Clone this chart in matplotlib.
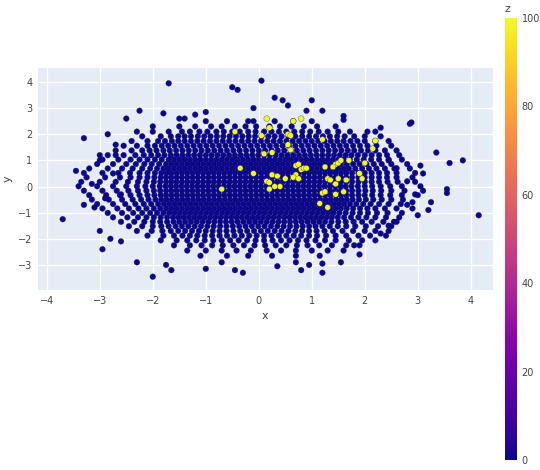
import numpy as np
import matplotlib
matplotlib.use("Agg")
import matplotlib.pyplot as plt

# dark points (z=0), grouped by row (y) with x positions
rows = {
 2.5: "-1.0 -0.6 -0.2 0.3 0.65 1.0",
 2.3: "-1.5 -1.2 -0.9 -0.7 -0.45 -0.25 -0.05 0.2 0.4 0.62 0.85 1.1 1.45",
 2.1: "-2.0 -1.7 -1.45 -1.3 -1.12 -0.97 -0.8 -0.66 -0.5 -0.36 -0.2 -0.06 0.1 0.24 0.38 0.52 0.67 0.82 0.97 1.13 1.3 1.5 1.72 2.05",
 1.92: "-2.2 -1.85 -1.66 -1.52 -1.4 -1.28 -1.15 -1.03 -0.91 -0.79 -0.67 -0.55 -0.43 -0.31 -0.19 -0.07 0.05 0.18 0.3 0.43 0.56 0.69 0.82 0.95 1.08 1.21 1.34 1.48 1.62 1.8 2.0 2.3",
 1.74: "-2.4 -2.1 -1.9 -1.77 -1.64 -1.52 -1.4 -1.28 -1.16 -1.04 -0.92 -0.8 -0.68 -0.56 -0.44 -0.32 -0.2 -0.08 0.04 0.16 0.28 0.4 0.52 0.64 0.76 0.88 1.0 1.12 1.24 1.36 1.48 1.6 1.73 1.86 2.0 2.2 2.45",
 1.56: "-2.55 -2.3 -2.1 -1.96 -1.83 -1.71 -1.59 -1.47 -1.35 -1.23 -1.11 -0.99 -0.87 -0.75 -0.63 -0.51 -0.39 -0.27 -0.15 -0.03 0.09 0.21 0.33 0.45 0.57 0.69 0.81 0.93 1.05 1.17 1.29 1.41 1.53 1.65 1.78 1.91 2.05 2.22 2.5",
 1.38: "-2.7 -2.4 -2.2 -2.06 -1.93 -1.8 -1.68 -1.56 -1.44 -1.32 -1.2 -1.08 -0.96 -0.84 -0.72 -0.6 -0.48 -0.36 -0.24 -0.12 0.0 0.12 0.24 0.36 0.48 0.6 0.72 0.84 0.96 1.08 1.2 1.32 1.44 1.56 1.68 1.8 1.93 2.06 2.2 2.38 2.6",
 1.2: "-2.85 -2.55 -2.33 -2.17 -2.03 -1.9 -1.78 -1.66 -1.55 -1.44 -1.33 -1.22 -1.11 -1.0 -0.89 -0.78 -0.67 -0.56 -0.45 -0.34 -0.23 -0.12 -0.01 0.1 0.21 0.32 0.43 0.54 0.65 0.76 0.87 0.98 1.09 1.2 1.31 1.42 1.53 1.64 1.75 1.87 2.0 2.13 2.27 2.42 2.65",
 1.03: "-2.95 -2.65 -2.42 -2.25 -2.1 -1.96 -1.83 -1.7 -1.6 -1.5 -1.4 -1.3 -1.2 -1.1 -1.0 -0.9 -0.8 -0.7 -0.6 -0.5 -0.4 -0.3 -0.2 -0.1 0.0 0.1 0.2 0.3 0.4 0.5 0.6 0.7 0.8 0.9 1.0 1.1 1.2 1.3 1.4 1.5 1.6 1.72 1.85 1.98 2.12 2.27 2.45 2.7",
 0.86: "-3.05 -2.75 -2.5 -2.32 -2.16 -2.02 -1.88 -1.75 -1.65 -1.55 -1.45 -1.35 -1.25 -1.15 -1.05 -0.95 -0.85 -0.75 -0.65 -0.55 -0.45 -0.35 -0.25 -0.15 -0.05 0.05 0.15 0.25 0.35 0.45 0.55 0.65 0.75 0.85 0.95 1.05 1.15 1.25 1.35 1.45 1.55 1.66 1.78 1.9 2.03 2.17 2.32 2.5 2.8",
 0.69: "-3.2 -2.85 -2.58 -2.38 -2.2 -2.05 -1.92 -1.8 -1.7 -1.6 -1.5 -1.4 -1.3 -1.2 -1.1 -1.0 -0.9 -0.8 -0.7 -0.6 -0.5 -0.4 -0.3 -0.2 -0.1 0.0 0.1 0.2 0.3 0.4 0.5 0.6 0.7 0.8 0.9 1.0 1.1 1.2 1.3 1.4 1.5 1.6 1.7 1.82 1.95 2.08 2.22 2.38 2.56 2.85",
 0.52: "-3.3 -2.95 -2.65 -2.43 -2.25 -2.1 -1.96 -1.84 -1.74 -1.65 -1.55 -1.45 -1.35 -1.25 -1.15 -1.05 -0.95 -0.85 -0.75 -0.65 -0.55 -0.45 -0.35 -0.25 -0.15 -0.05 0.05 0.15 0.25 0.35 0.45 0.55 0.65 0.75 0.85 0.95 1.05 1.15 1.25 1.35 1.45 1.55 1.65 1.76 1.88 2.0 2.13 2.27 2.42 2.6 2.95",
 0.35: "-3.25 -2.9 -2.62 -2.42 -2.25 -2.1 -1.97 -1.85 -1.75 -1.65 -1.55 -1.45 -1.35 -1.25 -1.15 -1.05 -0.95 -0.85 -0.75 -0.65 -0.55 -0.45 -0.35 -0.25 -0.15 -0.05 0.05 0.15 0.25 0.35 0.45 0.55 0.65 0.75 0.85 0.95 1.05 1.15 1.25 1.35 1.45 1.55 1.65 1.76 1.88 2.0 2.13 2.27 2.42 2.6 2.9",
 0.18: "-3.35 -3.0 -2.7 -2.47 -2.28 -2.12 -1.98 -1.86 -1.75 -1.65 -1.55 -1.45 -1.35 -1.25 -1.15 -1.05 -0.95 -0.85 -0.75 -0.65 -0.55 -0.45 -0.35 -0.25 -0.15 -0.05 0.05 0.15 0.25 0.35 0.45 0.55 0.65 0.75 0.85 0.95 1.05 1.15 1.25 1.35 1.45 1.55 1.65 1.76 1.88 2.0 2.13 2.27 2.43 2.62 2.95",
 0.01: "-3.4 -3.05 -2.75 -2.5 -2.3 -2.14 -2.0 -1.87 -1.76 -1.66 -1.56 -1.46 -1.36 -1.26 -1.16 -1.06 -0.96 -0.86 -0.76 -0.66 -0.56 -0.46 -0.36 -0.26 -0.16 -0.06 0.04 0.14 0.24 0.34 0.44 0.54 0.64 0.74 0.84 0.94 1.04 1.14 1.24 1.34 1.44 1.54 1.64 1.75 1.87 2.0 2.14 2.3 2.48 2.7 3.05",
 -0.16: "-3.3 -2.95 -2.68 -2.46 -2.28 -2.12 -1.98 -1.86 -1.75 -1.65 -1.55 -1.45 -1.35 -1.25 -1.15 -1.05 -0.95 -0.85 -0.75 -0.65 -0.55 -0.45 -0.35 -0.25 -0.15 -0.05 0.05 0.15 0.25 0.35 0.45 0.55 0.65 0.75 0.85 0.95 1.05 1.15 1.25 1.35 1.45 1.55 1.65 1.76 1.88 2.01 2.15 2.31 2.5 2.75 3.1",
 -0.33: "-3.2 -2.88 -2.62 -2.42 -2.25 -2.1 -1.97 -1.85 -1.75 -1.65 -1.55 -1.45 -1.35 -1.25 -1.15 -1.05 -0.95 -0.85 -0.75 -0.65 -0.55 -0.45 -0.35 -0.25 -0.15 -0.05 0.05 0.15 0.25 0.35 0.45 0.55 0.65 0.75 0.85 0.95 1.05 1.15 1.25 1.35 1.45 1.55 1.65 1.76 1.88 2.0 2.14 2.3 2.48 2.7 3.0",
 -0.5: "-3.15 -2.83 -2.58 -2.38 -2.22 -2.08 -1.95 -1.84 -1.74 -1.64 -1.54 -1.44 -1.34 -1.24 -1.14 -1.04 -0.94 -0.84 -0.74 -0.64 -0.54 -0.44 -0.34 -0.24 -0.14 -0.04 0.06 0.16 0.26 0.36 0.46 0.56 0.66 0.76 0.86 0.96 1.06 1.16 1.26 1.36 1.46 1.56 1.66 1.77 1.89 2.02 2.16 2.32 2.5 2.72",
 -0.67: "-3.05 -2.75 -2.52 -2.33 -2.17 -2.03 -1.9 -1.79 -1.69 -1.59 -1.49 -1.39 -1.29 -1.19 -1.09 -0.99 -0.89 -0.79 -0.69 -0.59 -0.49 -0.39 -0.29 -0.19 -0.09 0.01 0.11 0.21 0.31 0.41 0.51 0.61 0.71 0.81 0.91 1.01 1.11 1.21 1.31 1.41 1.51 1.61 1.72 1.84 1.97 2.11 2.27 2.45 2.68",
 -0.84: "-2.95 -2.67 -2.45 -2.27 -2.12 -1.98 -1.86 -1.75 -1.65 -1.55 -1.45 -1.35 -1.25 -1.15 -1.05 -0.95 -0.85 -0.75 -0.65 -0.55 -0.45 -0.35 -0.25 -0.15 -0.05 0.05 0.15 0.25 0.35 0.45 0.55 0.65 0.75 0.85 0.95 1.05 1.15 1.25 1.35 1.45 1.55 1.66 1.78 1.91 2.05 2.2 2.38 2.6 2.9",
 -1.01: "-2.85 -2.58 -2.37 -2.2 -2.05 -1.92 -1.8 -1.69 -1.59 -1.49 -1.39 -1.29 -1.19 -1.09 -0.99 -0.89 -0.79 -0.69 -0.59 -0.49 -0.39 -0.29 -0.19 -0.09 0.01 0.11 0.21 0.31 0.41 0.51 0.61 0.71 0.81 0.91 1.01 1.11 1.21 1.31 1.41 1.52 1.64 1.77 1.91 2.06 2.23 2.43 2.7",
 -1.18: "-2.75 -2.48 -2.28 -2.12 -1.98 -1.85 -1.73 -1.62 -1.52 -1.42 -1.32 -1.22 -1.12 -1.02 -0.92 -0.82 -0.72 -0.62 -0.52 -0.42 -0.32 -0.22 -0.12 -0.02 0.08 0.18 0.28 0.38 0.48 0.58 0.68 0.78 0.88 0.98 1.08 1.18 1.28 1.38 1.49 1.61 1.74 1.88 2.03 2.2 2.4 2.65",
 -1.35: "-2.6 -2.35 -2.16 -2.0 -1.86 -1.73 -1.61 -1.5 -1.39 -1.28 -1.17 -1.06 -0.95 -0.84 -0.73 -0.62 -0.51 -0.4 -0.29 -0.18 -0.07 0.04 0.15 0.26 0.37 0.48 0.59 0.7 0.81 0.92 1.03 1.14 1.25 1.37 1.5 1.64 1.79 1.95 2.13 2.35 2.55",
 -1.52: "-2.45 -2.2 -2.0 -1.84 -1.7 -1.57 -1.45 -1.33 -1.21 -1.09 -0.97 -0.85 -0.73 -0.61 -0.49 -0.37 -0.25 -0.13 -0.01 0.11 0.23 0.35 0.47 0.59 0.71 0.83 0.95 1.07 1.2 1.34 1.49 1.65 1.82 2.02 2.25 2.5",
 -1.7: "-2.3 -2.02 -1.82 -1.66 -1.52 -1.39 -1.26 -1.13 -1.0 -0.87 -0.74 -0.61 -0.48 -0.35 -0.22 -0.09 0.04 0.17 0.3 0.43 0.56 0.69 0.82 0.95 1.09 1.24 1.4 1.58 1.78 2.0 2.2 2.45",
 -1.88: "-2.1 -1.8 -1.6 -1.44 -1.3 -1.16 -1.02 -0.88 -0.74 -0.6 -0.46 -0.32 -0.18 -0.04 0.1 0.24 0.38 0.52 0.66 0.8 0.95 1.1 1.27 1.45 1.65 1.88 2.1 2.4",
 -2.06: "-1.85 -1.55 -1.35 -1.18 -1.02 -0.86 -0.7 -0.54 -0.38 -0.22 -0.06 0.1 0.26 0.42 0.58 0.74 0.9 1.07 1.25 1.45 1.7 1.95 2.2",
 -2.25: "-1.6 -1.3 -1.08 -0.88 -0.68 -0.48 -0.28 -0.08 0.12 0.32 0.52 0.72 0.92 1.14 1.38 1.65 1.9",
 -2.45: "-1.35 -1.0 -0.7 -0.42 -0.15 0.15 0.42 0.7 1.0 1.3 1.6",
 -2.65: "-1.1 -0.6 -0.2 0.25 0.7 1.15",
}
# sparse outlying dark points
outer_x = [-3.7,-3.45,-3.3,-3.3,-3.0,-3.0,-3.1,-2.85,-2.8,-2.95,-2.7,-2.6,-2.25,-2.5,-2.3,-2.0,-1.8,-1.7,-1.65,-1.75,-1.4,-1.0,-0.7,-0.5,-0.3,-0.45,0.05,-0.1,0.3,0.45,0.55,1.0,1.2,0.8,1.6,1.55,2.2,2.3,2.85,2.88,3.35,3.6,3.85,4.15,3.55,3.55,3.0,3.2,3.25,3.05,2.8,2.6,1.9,1.8,1.6,1.2,1.2,0.95,0.7,0.35,-0.1,-0.4,-1.0,-1.5,-2.0,-2.3,-3.0,-2.75,-2.6,2.45,2.45,2.3,2.8,-3.15,-2.9,2.95,3.1,-2.7,2.6,2.9,-1.2,0.9]
outer_y = [-1.25,0.6,1.85,-0.7,1.2,-1.7,-0.8,2.0,-2.0,-2.4,1.6,-2.1,2.9,2.6,-2.9,-3.45,2.8,3.95,-3.2,-3.0,2.6,-3.15,-2.9,3.8,-3.3,-3.2,4.05,2.5,3.4,3.3,3.1,3.3,2.9,-3.2,2.7,-2.9,2.1,2.25,2.4,2.45,1.3,0.9,1.0,-1.1,-0.1,-0.25,-1.1,-0.9,-0.6,0.8,-0.7,-1.35,-2.6,-2.25,2.55,-2.95,-3.3,-3.0,-2.9,-3.05,3.0,3.7,2.85,2.6,2.3,2.1,1.0,0.5,-0.3,-1.5,1.0,-1.8,0.2,0.1,-0.45,-0.3,0.5,1.2,0.7,-0.6,2.75,2.9]
# yellow points (z=100)
yel_x = [-0.7,-0.35,-0.1,0.15,0.2,0.25,0.1,0.25,0.4,0.3,0.55,0.6,0.7,0.75,0.8,0.85,0.7,0.65,0.75,0.9,0.6,0.55,1.2,1.25,1.3,1.35,1.45,1.5,1.55,1.6,1.4,1.5,1.45,1.2,1.25,1.9,1.95,2.0,2.15,2.2,1.7,1.3,0.2,0.15,0.35,0.5,0.05,1.15,0.65,0.8,1.65,1.45,-0.45,0.2]
yel_y = [-0.1,0.7,0.5,0.2,0.15,1.3,1.25,0.45,0.0,-0.0,2.0,1.95,0.8,0.85,0.65,0.7,0.45,0.35,0.3,0.7,1.4,1.6,-0.25,-0.2,0.3,0.25,0.85,0.9,1.0,-0.2,0.75,0.3,-0.3,1.8,0.75,0.5,0.3,0.9,1.45,1.75,1.0,-0.8,2.25,2.6,0.4,0.3,1.95,-0.65,2.5,2.6,0.25,0.1,2.1,-0.1]

dx, dy = [], []
for y, s in rows.items():
    xs = [float(v) for v in s.split()]
    dx += xs
    dy += [y] * len(xs)
dx += outer_x
dy += outer_y
z = np.concatenate([np.zeros(len(dx)), np.full(len(yel_x), 100.0)])
X = np.array(dx + yel_x)
Y = np.array(dy + yel_y)

fig = plt.figure(figsize=(5.4, 4.7), dpi=100)
ax = fig.add_axes([0.070, 0.383, 0.843, 0.472])
ax.set_facecolor("#E5ECF6")
sc = ax.scatter(X, Y, c=z, cmap="plasma", vmin=0, vmax=100, s=17,
                edgecolors="#0d0887", linewidths=0.2, zorder=3)
ax.set_xlim(-4.17, 4.42)
ax.set_ylim(-3.96, 4.53)
ax.set_xticks(range(-4, 5))
ax.set_yticks(range(-3, 5))
ax.grid(True, color="white", linewidth=1)
ax.set_axisbelow(True)
for sp in ax.spines.values():
    sp.set_visible(False)
ax.tick_params(length=0, labelsize=7, colors="#444444", pad=4)
ax.set_xlabel("x", fontsize=8, color="#444444")
ax.set_ylabel("y", fontsize=8, color="#444444")

cax = fig.add_axes([0.935, 0.021, 0.022, 0.941])
cb = fig.colorbar(sc, cax=cax, ticks=[0, 20, 40, 60, 80, 100])
cb.outline.set_visible(False)
cax.tick_params(length=0, labelsize=7, colors="#444444")
fig.text(0.935, 0.975, "z", fontsize=8, color="#444444")
fig.savefig("out.png", dpi=100)
